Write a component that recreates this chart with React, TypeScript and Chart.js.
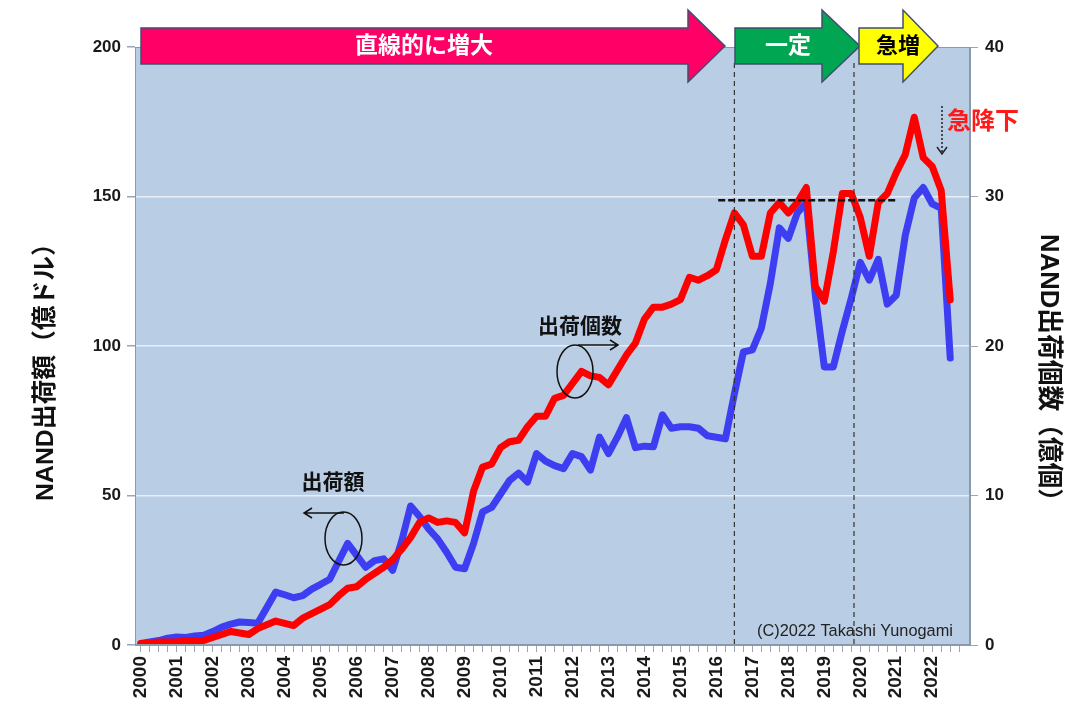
import React, { useEffect, useRef } from 'react';
import { Chart, registerables } from 'chart.js';

Chart.register(...registerables);

const FONT = '"Liberation Sans", "Noto Sans CJK JP", sans-serif';

// Year labels (one per year, shown at Q1 of each year)
const years = [
  '2000', '2001', '2002', '2003', '2004', '2005', '2006', '2007', '2008', '2009', '2010', '2011',
  '2012', '2013', '2014', '2015', '2016', '2017', '2018', '2019', '2020', '2021', '2022',
];
const quarterLabels = years.flatMap((y) => [y, '', '', '']);

// NAND shipment value (億ドル), quarterly 2000Q1 – 2022Q3, left axis
const shipmentValue = [
  0.5, 1.0, 1.5, 2.3, 2.7, 2.5, 3.0, 3.3, 4.5, 6.0,
  7.0, 7.7, 7.5, 7.3, 12.5, 17.7, 16.8, 15.8, 16.5, 18.7,
  20.3, 22, 28, 34, 30, 26, 28.2, 28.8, 25, 34.7,
  46.5, 43, 38.8, 35.5, 31, 26, 25.5, 34, 44.5, 46,
  50.5, 55, 57.5, 54.5, 64, 61.5, 60, 59, 64, 63,
  58.5, 69.5, 64, 69.6, 76, 66, 66.5, 66.3, 77, 72.5,
  73, 73, 72.5, 70, 69.5, 69, 84, 98, 98.7, 106,
  121, 139.5, 136, 144.5, 148, 117, 93, 93, 105, 116,
  128, 122, 129, 114, 117, 137, 149.5, 153, 147.5, 146,
  96,
];

// NAND shipment units (億個), quarterly 2000Q1 – 2022Q3, right axis
const shipmentUnits = [
  0.1, 0.1, 0.2, 0.2, 0.2, 0.3, 0.3, 0.3, 0.5, 0.7,
  0.9, 0.8, 0.7, 1.1, 1.35, 1.6, 1.45, 1.3, 1.8, 2.1,
  2.4, 2.7, 3.3, 3.8, 3.9, 4.4, 4.8, 5.2, 5.7, 6.4,
  7.2, 8.2, 8.5, 8.2, 8.3, 8.2, 7.5, 10.3, 11.9, 12.1,
  13.2, 13.6, 13.7, 14.6, 15.3, 15.3, 16.5, 16.7, 17.5, 18.3,
  18.0, 17.9, 17.4, 18.4, 19.4, 20.2, 21.8, 22.6, 22.6, 22.8,
  23.1, 24.6, 24.4, 24.7, 25.1, 27.1, 28.9, 28.1, 26.0, 26.0,
  28.9, 29.6, 28.9, 29.6, 30.6, 24, 23, 26.3, 30.2, 30.2,
  28.6, 26.0, 29.6, 30.2, 31.6, 32.8, 35.3, 32.6, 32.0, 30.4,
  23.1,
];

const phaseTexts = ['直線的に増大', '一定', '急増'];
const phaseBreaks = [66, 79.3];
const plateauLevel = 29.75;

function fitFont(ctx: CanvasRenderingContext2D, text: string, weight: string, target: number) {
  ctx.font = `${weight} 20px ${FONT}`;
  const w = ctx.measureText(text).width;
  const size = (20 * target) / w;
  ctx.font = `${weight} ${size}px ${FONT}`;
}

function drawBlockArrow(
  ctx: CanvasRenderingContext2D,
  x0: number, x1: number, tip: number, fill: string,
) {
  const bt = 28, bb = 64, ht = 10, hb = 82, mid = 46;
  ctx.beginPath();
  ctx.moveTo(x0, bt);
  ctx.lineTo(x1, bt);
  ctx.lineTo(x1, ht);
  ctx.lineTo(tip, mid);
  ctx.lineTo(x1, hb);
  ctx.lineTo(x1, bb);
  ctx.lineTo(x0, bb);
  ctx.closePath();
  ctx.fillStyle = fill;
  ctx.fill();
  ctx.strokeStyle = '#3f4f6f';
  ctx.lineWidth = 1.5;
  ctx.stroke();
}

const overlay = {
  id: 'overlay',
  beforeDraw(chart: any) {
    const { ctx, chartArea: ca } = chart;
    ctx.save();
    ctx.fillStyle = '#ffffff';
    ctx.fillRect(0, 0, chart.width, chart.height);
    ctx.fillStyle = '#b9cde5';
    ctx.fillRect(ca.left, ca.top, ca.right - ca.left, ca.bottom - ca.top);
    ctx.restore();
  },
  afterDatasetsDraw(chart: any) {
    const { ctx, chartArea: ca, scales } = chart;
    const x = scales.x;
    const yR = scales.yR;
    ctx.save();
    ctx.strokeStyle = '#333';
    ctx.lineWidth = 1.2;
    ctx.setLineDash([5, 4]);
    phaseBreaks.forEach((v) => {
      const px = x.getPixelForValue(v);
      ctx.beginPath();
      ctx.moveTo(px, 63);
      ctx.lineTo(px, ca.bottom);
      ctx.stroke();
    });
    ctx.setLineDash([7, 3]);
    ctx.lineWidth = 2.5;
    ctx.strokeStyle = '#111';
    const hy = yR.getPixelForValue(plateauLevel);
    ctx.beginPath();
    ctx.moveTo(x.getPixelForValue(64.2), hy);
    ctx.lineTo(x.getPixelForValue(84), hy);
    ctx.stroke();
    ctx.restore();
  },
  afterDraw(chart: any) {
    const { ctx, chartArea: ca } = chart;
    ctx.save();
    // plot border
    ctx.strokeStyle = '#8c99aa';
    ctx.lineWidth = 1;
    ctx.strokeRect(ca.left + 0.5, ca.top + 0.5, ca.right - ca.left - 1, ca.bottom - ca.top - 1);

    // phase arrows
    drawBlockArrow(ctx, 141, 688, 725, '#ff0066');
    drawBlockArrow(ctx, 735, 822, 860, '#00a651');
    drawBlockArrow(ctx, 859, 903, 938, '#ffff00');
    ctx.textAlign = 'center';
    ctx.textBaseline = 'middle';
    ctx.font = `bold 23px ${FONT}`;
    ctx.fillStyle = '#ffffff';
    ctx.fillText(phaseTexts[0], 424, 47);
    ctx.fillText(phaseTexts[1], 788, 47);
    ctx.fillStyle = '#000000';
    ctx.font = `bold 22px ${FONT}`;
    ctx.fillText(phaseTexts[2], 898, 47);

    // 急降下
    ctx.textAlign = 'left';
    ctx.fillStyle = '#ff1a1a';
    ctx.font = `bold 24px ${FONT}`;
    ctx.fillText('急降下', 947, 122);
    ctx.strokeStyle = '#222';
    ctx.lineWidth = 1.5;
    ctx.setLineDash([2, 2]);
    ctx.beginPath();
    ctx.moveTo(942, 106);
    ctx.lineTo(942, 152);
    ctx.stroke();
    ctx.setLineDash([]);
    ctx.beginPath();
    ctx.moveTo(937, 147);
    ctx.lineTo(942, 154);
    ctx.lineTo(947, 147);
    ctx.stroke();

    // series annotations
    ctx.fillStyle = '#111';
    ctx.textAlign = 'center';
    ctx.font = `bold 21px ${FONT}`;
    ctx.fillText('出荷額', 333, 483);
    ctx.fillText('出荷個数', 580, 327);
    ctx.strokeStyle = '#111';
    ctx.lineWidth = 1.5;
    ctx.beginPath();
    ctx.ellipse(343.5, 538.5, 18.5, 26.5, 0, 0, Math.PI * 2);
    ctx.stroke();
    ctx.beginPath();
    ctx.moveTo(344, 513);
    ctx.lineTo(305, 513);
    ctx.moveTo(312, 508);
    ctx.lineTo(304, 513);
    ctx.lineTo(312, 518);
    ctx.stroke();
    ctx.beginPath();
    ctx.ellipse(575, 371.5, 18, 26.5, 0, 0, Math.PI * 2);
    ctx.stroke();
    ctx.beginPath();
    ctx.moveTo(578, 345);
    ctx.lineTo(617, 345);
    ctx.moveTo(610, 340);
    ctx.lineTo(618, 345);
    ctx.lineTo(610, 350);
    ctx.stroke();

    // copyright
    ctx.textAlign = 'left';
    ctx.fillStyle = '#222';
    const cr = '(C)2022 Takashi Yunogami';
    fitFont(ctx, cr, 'normal', 196);
    ctx.fillText(cr, 757, 631);

    // axis titles
    ctx.textAlign = 'center';
    ctx.fillStyle = '#111';
    const lt = 'NAND出荷額（億ドル）';
    ctx.save();
    ctx.translate(46, 366);
    ctx.rotate(-Math.PI / 2);
    fitFont(ctx, lt, 'bold', 270);
    ctx.fillText(lt, 0, 0);
    ctx.restore();
    const rt = 'NAND出荷個数（億個）';
    ctx.save();
    ctx.translate(1048, 374);
    ctx.rotate(Math.PI / 2);
    fitFont(ctx, rt, 'bold', 280);
    ctx.fillText(rt, 0, 0);
    ctx.restore();
    ctx.restore();
  },
};

export default function App() {
  const canvasRef = useRef<HTMLCanvasElement | null>(null);

  useEffect(() => {
    document.body.style.margin = '0';
    const canvas = canvasRef.current;
    if (!canvas) return;
    const tickFont = { family: FONT, size: 17, weight: 'bold' as const };
    const chart = new Chart(canvas, {
      type: 'line',
      data: {
        datasets: [
          {
            label: '出荷個数',
            data: shipmentUnits.map((v, i) => ({ x: i, y: v })),
            yAxisID: 'yR',
            borderColor: '#ff0000',
            borderWidth: 7,
            pointRadius: 0,
            borderJoinStyle: 'round',
            borderCapStyle: 'round',
            order: 0,
          },
          {
            label: '出荷額',
            data: shipmentValue.map((v, i) => ({ x: i, y: v })),
            yAxisID: 'yL',
            borderColor: '#3d3df2',
            borderWidth: 7,
            pointRadius: 0,
            borderJoinStyle: 'round',
            borderCapStyle: 'round',
            order: 1,
          },
        ],
      },
      options: {
        responsive: false,
        animation: false,
        devicePixelRatio: 1,
        layout: { padding: { top: 47, left: 0, right: 0, bottom: 0 } },
        plugins: { legend: { display: false }, tooltip: { enabled: false } },
        scales: {
          x: {
            type: 'linear',
            min: -0.65,
            max: 92.2,
            afterBuildTicks: (s: any) => {
              s.ticks = quarterLabels.map((_, i) => ({ value: i }));
            },
            afterFit: (s: any) => {
              s.height = 71;
            },
            ticks: {
              autoSkip: false,
              minRotation: 90,
              maxRotation: 90,
              padding: 4,
              color: '#1a1a1a',
              font: { family: FONT, size: 19, weight: 'bold' },
              callback: (v: any) => quarterLabels[v] ?? '',
            },
            grid: { drawOnChartArea: false, tickLength: 7, color: '#9aa5b5' },
            border: { color: '#8c99aa' },
          },
          yL: {
            position: 'left',
            min: 0,
            max: 200,
            afterFit: (s: any) => {
              s.width = 135;
            },
            ticks: { stepSize: 50, padding: 6, color: '#1a1a1a', font: tickFont },
            grid: {
              color: (c: any) =>
                c.tick && (c.tick.value === 0 || c.tick.value === 200)
                  ? 'rgba(0,0,0,0)'
                  : 'rgba(236,242,250,0.9)',
              lineWidth: 1.5,
              tickColor: '#9aa5b5',
              tickLength: 8,
            },
            border: { color: '#8c99aa' },
          },
          yR: {
            position: 'right',
            min: 0,
            max: 40,
            afterFit: (s: any) => {
              s.width = 110;
            },
            ticks: { stepSize: 10, padding: 7, color: '#1a1a1a', font: tickFont },
            grid: { drawOnChartArea: false, tickColor: '#9aa5b5', tickLength: 8 },
            border: { color: '#8c99aa' },
          },
        },
      },
      plugins: [overlay],
    });
    return () => chart.destroy();
  }, []);

  return <canvas ref={canvasRef} width={1080} height={716} style={{ display: 'block' }} />;
}
